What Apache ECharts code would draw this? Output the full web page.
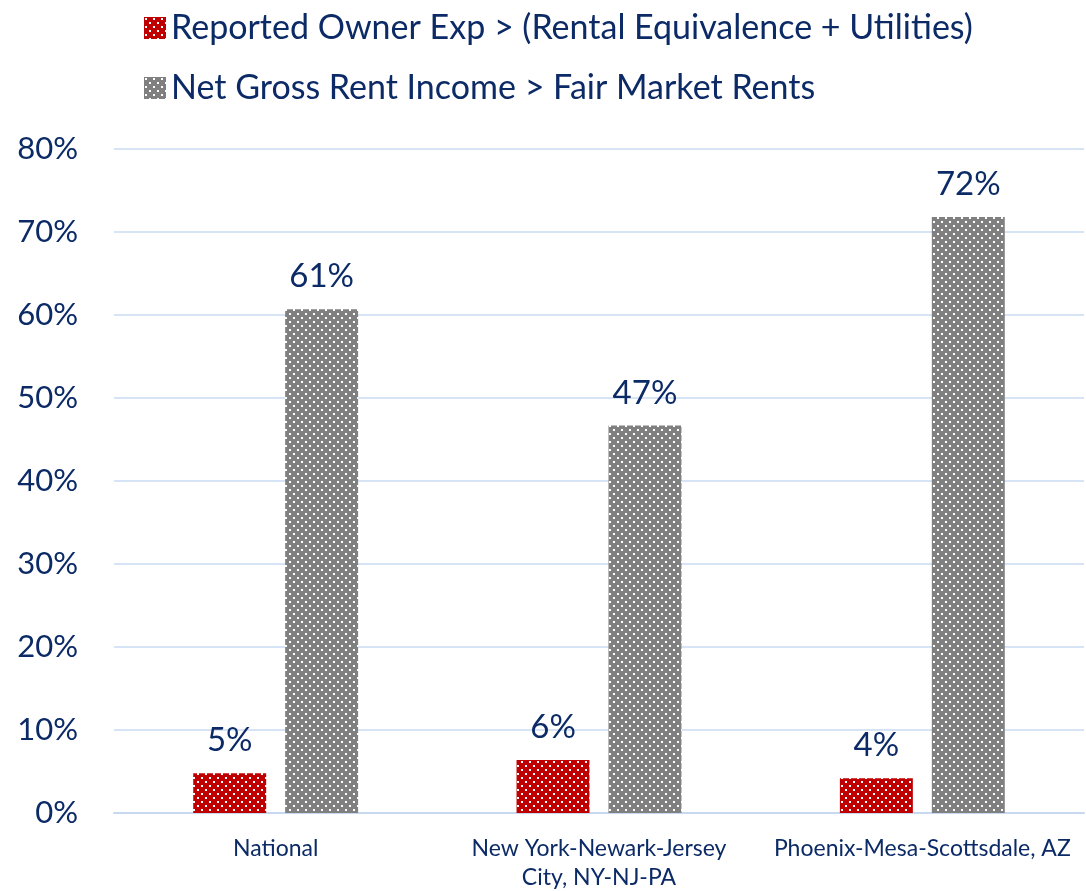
<!DOCTYPE html>
<html><head><meta charset="utf-8">
<script src="https://cdn.jsdelivr.net/npm/echarts@6/dist/echarts.min.js"></script>
<style>html,body{margin:0;padding:0;background:#fff}#c{width:1086px;height:891px}</style>
</head><body><div id="c"></div>
<script>
const categories = ['National', 'New York-Newark-Jersey City, NY-NJ-PA', 'Phoenix-Mesa-Scottsdale, AZ'];
const seriesNames = ['Reported Owner Exp > (Rental Equivalence + Utilities)', 'Net Gross Rent Income > Fair Market Rents'];
const ownerExp = [4.8, 6.4, 4.2];
const netGross = [60.7, 46.7, 71.8];
const yTicks = [0, 10, 20, 30, 40, 50, 60, 70, 80];

function dotPattern(bg) {
  const c = document.createElement('canvas');
  c.width = 8; c.height = 8;
  const g = c.getContext('2d');
  g.fillStyle = bg; g.fillRect(0, 0, 8, 8);
  g.fillStyle = '#ffffff';
  g.fillRect(1, 1, 2, 2);
  g.fillRect(5, 5, 2, 2);
  return { image: c, repeat: 'repeat' };
}
const FONT = 'Lato';
const NAVY = '#0b2a66';
const chart = echarts.init(document.getElementById('c'));
chart.setOption({
  animation: false,
  textStyle: { fontFamily: FONT },
  legend: {
    orient: 'vertical', left: 139, top: 6, icon: 'rect',
    itemWidth: 22, itemHeight: 22, itemGap: 26,
    textStyle: { fontSize: 34, color: NAVY, fontFamily: FONT },
    data: seriesNames
  },
  grid: { left: 114, right: 2, top: 149, bottom: 78, outerBoundsMode: 'none', containLabel: false },
  xAxis: {
    type: 'category', data: categories,
    axisLine: { lineStyle: { color: '#c6d9f1', width: 2 } },
    axisTick: { show: false },
    axisLabel: { interval: 0, fontSize: 23, color: NAVY, margin: 21, lineHeight: 29,
      formatter: v => v.replace(' City', '\nCity') }
  },
  yAxis: {
    type: 'value', min: 0, max: 80, interval: 10,
    axisLine: { show: false }, axisTick: { show: false },
    splitLine: { lineStyle: { color: '#c9dbf2', width: 1.5 } },
    axisLabel: { fontSize: 31, color: NAVY, margin: 36, formatter: v => yTicks.includes(v) ? v + '%' : '' }
  },
  series: [
    { name: seriesNames[0], type: 'bar', data: ownerExp, barGap: '26%', barCategoryGap: '49%',
      itemStyle: { color: dotPattern('#c00000') },
      label: { show: true, position: 'top', fontSize: 33, color: NAVY, distance: 16, formatter: p => Math.round(p.value) + '%' } },
    { name: seriesNames[1], type: 'bar', data: netGross,
      itemStyle: { color: dotPattern('#808080') },
      label: { show: true, position: 'top', fontSize: 33, color: NAVY, distance: 16, formatter: p => Math.round(p.value) + '%' } }
  ]
});
</script></body></html>
